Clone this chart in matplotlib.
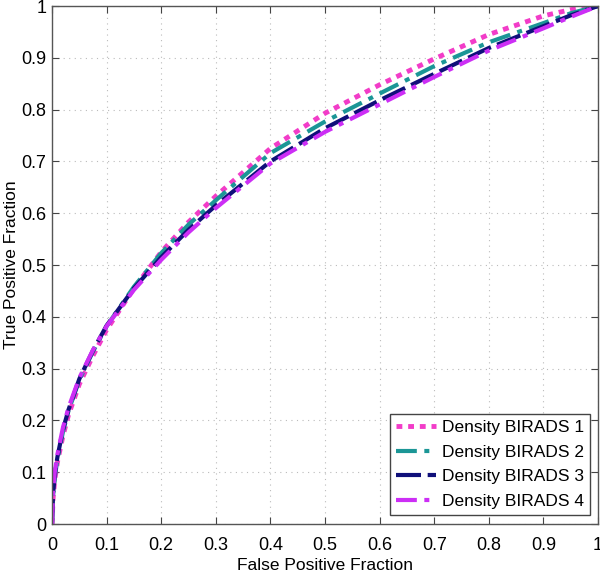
import numpy as np
import matplotlib
matplotlib.use("Agg")
import matplotlib.pyplot as plt

plt.rcParams['font.family'] = ['Liberation Sans', 'DejaVu Sans']

# FPF points
fpf = [0.0, 0.002, 0.005, 0.01, 0.02, 0.03, 0.05, 0.075, 0.1, 0.15, 0.2, 0.25,
       0.3, 0.4, 0.5, 0.6, 0.7, 0.8, 0.9, 0.95, 1.0]

# TPF for each density class
tpf_b1 = [0.0, 0.05, 0.085, 0.12, 0.17, 0.21, 0.27, 0.325, 0.375, 0.455, 0.525, 0.583,
          0.633, 0.725, 0.793, 0.848, 0.898, 0.945, 0.981, 0.993, 1.0]
tpf_b2 = [0.0, 0.055, 0.09, 0.125, 0.178, 0.218, 0.278, 0.333, 0.382, 0.458, 0.523, 0.578,
          0.625, 0.716, 0.777, 0.831, 0.884, 0.93, 0.967, 0.986, 1.0]
tpf_b3 = [0.0, 0.058, 0.095, 0.13, 0.182, 0.22, 0.28, 0.335, 0.383, 0.455, 0.515, 0.568,
          0.615, 0.70, 0.764, 0.818, 0.869, 0.919, 0.961, 0.982, 1.0]
tpf_b4 = [0.0, 0.065, 0.10, 0.135, 0.186, 0.224, 0.282, 0.336, 0.382, 0.452, 0.51, 0.563,
          0.61, 0.696, 0.757, 0.81, 0.863, 0.914, 0.957, 0.979, 1.0]

labels = ["Density BIRADS 1", "Density BIRADS 2", "Density BIRADS 3", "Density BIRADS 4"]
colors = ["#F23CC8", "#1B9696", "#10107A", "#CC2EF5"]

fig = plt.figure(figsize=(6.0, 5.74), dpi=100)
ax = fig.add_axes([0.0867, 0.0871, 0.91, 0.9024])

ax.plot(fpf, tpf_b1, color=colors[0], lw=3.5, linestyle=(0, (1.2, 1.2)), label=labels[0])
ax.plot(fpf, tpf_b2, color=colors[1], lw=3.0, linestyle=(0, (5.0, 1.8, 1.2, 1.8)), label=labels[1])
ax.plot(fpf, tpf_b3, color=colors[2], lw=3.0, linestyle=(0, (6.0, 1.6)), label=labels[2])
ax.plot(fpf, tpf_b4, color=colors[3], lw=3.0, linestyle=(0, (5.0, 1.8, 1.2, 1.8)), label=labels[3])

ticks = np.round(np.arange(0, 1.01, 0.1), 1)
ticklabels = ["0"] + [f"{t:.1f}" for t in ticks[1:-1]] + ["1"]
ax.set_xlim(0, 1)
ax.set_ylim(0, 1)
ax.set_xticks(ticks)
ax.set_yticks(ticks)
ax.set_xticklabels(ticklabels)
ax.set_yticklabels(ticklabels)
ax.tick_params(direction="in", top=True, right=True, length=5, width=0.8,
               color="#444444", labelsize=13)
ax.tick_params(axis="x", pad=9)
ax.tick_params(axis="y", pad=4)
ax.grid(True, linestyle=(0, (1, 4)), color="#bbbbbb", lw=0.8)
for s in ax.spines.values():
    s.set_color("#555555")
    s.set_linewidth(1.0)

ax.set_xlabel("False Positive Fraction", fontsize=12.5, labelpad=3)
ax.set_ylabel("True Positive Fraction", fontsize=12.5, labelpad=2)

leg = ax.legend(loc="lower right", bbox_to_anchor=(0.985, 0.017),
                fontsize=12.5, handlelength=2.3, borderpad=0.35, labelspacing=0.55,
                handletextpad=0.35, fancybox=False, framealpha=1, borderaxespad=0)
leg.get_frame().set_edgecolor("#444444")
leg.get_frame().set_linewidth(1.0)

fig.savefig("out.png", dpi=100)
